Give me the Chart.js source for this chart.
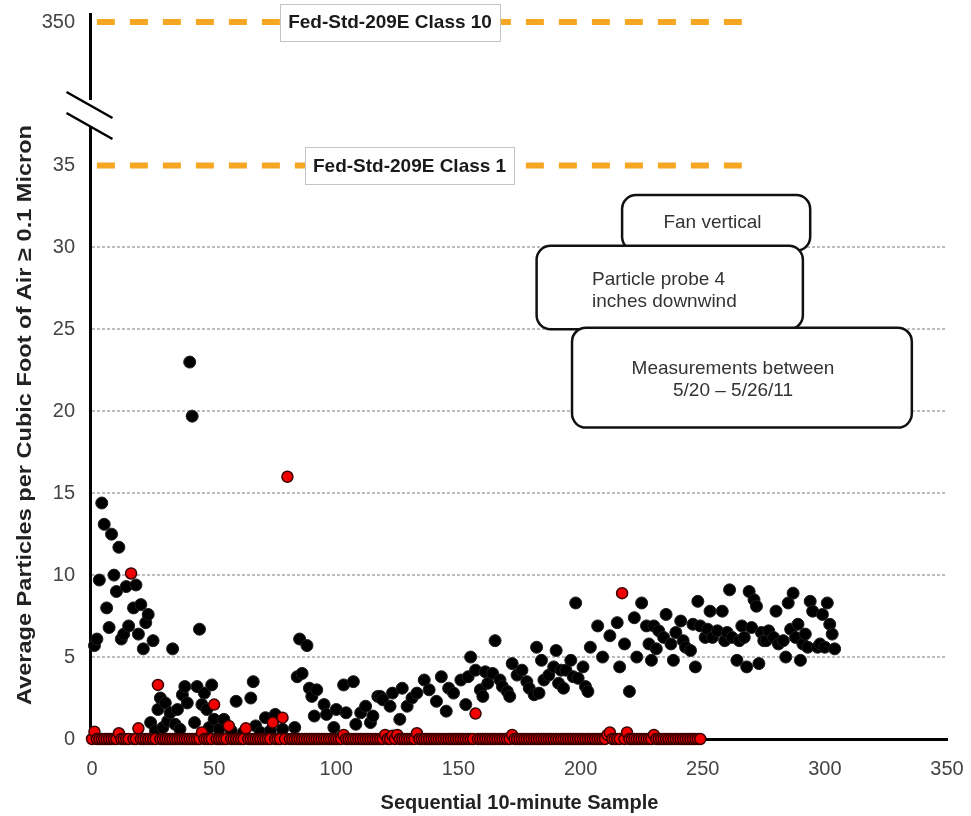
<!DOCTYPE html>
<html>
<head>
<meta charset="utf-8">
<script src="https://cdn.jsdelivr.net/npm/chart.js@4.4.1/dist/chart.umd.min.js"></script>
<style>
  html, body { margin: 0; padding: 0; background: #fff; }
</style>
</head>
<body>
<canvas id="particleChart" width="971" height="816"></canvas>
<script>
// black series: sample index and average particle count
const blackX = [
  1, 2, 3, 4, 5, 6, 7, 8, 9, 10, 11, 12, 13, 14, 15, 17, 18, 19, 20, 21, 22, 23, 25, 33,
  24, 26, 27, 28, 29, 30, 31, 32, 34, 35, 36, 37, 38, 39, 40, 41, 42, 43, 44, 45, 46, 47, 48, 49,
  50, 52, 54, 57, 59, 62, 65, 66, 67, 69, 71, 73, 75, 78, 83, 84, 85, 86, 88, 89, 90, 91, 92,
  95, 96, 99, 100, 103, 104, 107, 108, 110, 112, 114, 115, 117,
  118, 119, 122, 123, 126, 127, 129, 131, 133, 136, 138, 141, 143, 145, 146, 148, 151, 153, 154,
  155, 157, 159, 160, 161, 162, 164, 165, 167, 168, 170, 171, 172, 174, 176, 178, 179, 181, 182,
  183, 184, 185, 187, 189, 190, 191, 192, 193, 194, 196, 197, 198, 199, 201, 202, 203, 204,
  207, 209, 212, 215, 216, 218, 220, 222, 223, 225, 227, 228, 229,
  230, 231, 232, 234, 235, 237, 238, 239, 241, 242, 243, 245, 246, 247, 248, 249, 251, 252,
  253, 254, 256, 258, 259, 260, 261, 262, 264, 265, 266, 267, 268, 269, 270, 271, 272, 273,
  274, 275, 276, 277, 279, 280, 281, 283, 284, 285, 286, 287, 288, 289, 290, 291, 292, 293,
  294, 295, 297, 298, 299, 300, 301, 302, 303, 304
];
const blackY = [
  5.7, 6.1, 9.7, 14.4, 13.1, 8.0, 6.8, 12.5, 10.0, 9.0, 11.7, 6.1, 6.4, 9.3, 6.9, 8.0, 9.4, 6.4, 8.2, 5.5, 7.1, 7.6, 6.0, 5.5,
  1.0, 0.5, 1.8, 2.5, 0.7, 2.2, 1.1, 1.6, 0.9, 1.8, 0.6, 2.7, 3.2, 2.2, 23.0, 19.7, 1.0, 3.2, 6.7, 2.1, 2.8, 1.8, 0.7, 3.3,
  1.2, 0.6, 1.2, 0.5, 2.3, 0.4, 2.5, 3.5, 0.8, 0.4, 1.3, 0.5, 1.5, 0.6, 0.7, 3.8, 6.1, 4.0, 5.7, 3.1, 2.6, 1.4, 3.0,
  2.1, 1.5, 0.7, 1.8, 3.3, 1.6, 3.5, 0.9, 1.6, 2.0, 1.0, 1.4, 2.6,
  2.6, 2.4, 2.0, 2.8, 1.2, 3.1, 2.0, 2.5, 2.8, 3.6, 3.0, 2.3, 3.8, 1.7, 3.1, 2.8, 3.6, 2.1, 3.8,
  5.0, 4.2, 3.0, 2.6, 4.1, 3.4, 4.0, 6.0, 3.6, 3.2, 2.9, 2.6, 4.6, 3.9, 4.2, 3.5, 3.1, 2.7, 5.6,
  2.8, 4.8, 3.6, 3.9, 4.4, 5.4, 3.4, 4.2, 3.1, 4.2, 4.8, 3.8, 8.3, 3.7, 4.4, 3.2, 2.9, 5.6,
  6.9, 5.0, 6.3, 7.1, 4.4, 5.8, 2.9, 7.4, 5.0, 8.3, 6.9, 5.8, 4.8,
  6.9, 5.5, 6.6, 6.2, 7.6, 5.8, 4.8, 6.5, 7.2, 6.0, 5.6, 5.4, 7.0, 4.4, 8.4, 6.9, 6.2, 6.7,
  7.8, 6.2, 6.6, 7.8, 6.0, 6.5, 9.1, 6.2, 4.8, 6.0, 6.9, 6.2, 4.4, 9.0, 6.8, 8.5, 8.1, 4.6,
  6.5, 6.0, 6.0, 6.6, 6.2, 7.8, 5.8, 6.0, 5.0, 8.3, 6.7, 8.9, 6.2, 7.0, 4.8, 5.8, 6.4, 5.6,
  8.4, 7.8, 5.6, 5.8, 7.6, 5.6, 8.3, 7.0, 6.4, 5.5
];

// red series: one reading per sample, samples 0..249
const redY = [
  0, 0.45, 0, 0, 0, 0, 0, 0, 0, 0, 0, 0.35, 0, 0, 0, 0, 10.1, 0, 0, 0.65, 0, 0, 0, 0, 0,
  0, 0, 3.3, 0, 0, 0, 0, 0, 0, 0, 0, 0, 0, 0, 0, 0, 0, 0, 0, 0, 0.4, 0, 0, 0, 0,
  2.1, 0, 0, 0, 0, 0, 0.8, 0, 0, 0, 0, 0, 0, 0.65, 0, 0, 0, 0, 0, 0, 0, 0, 0, 0, 1.0,
  0, 0, 0, 1.3, 0, 16.0, 0, 0, 0, 0, 0, 0, 0, 0, 0, 0, 0, 0, 0, 0, 0, 0, 0, 0, 0,
  0, 0, 0, 0.25, 0, 0, 0, 0, 0, 0, 0, 0, 0, 0, 0, 0, 0, 0, 0, 0, 0.25, 0, 0, 0.2, 0,
  0.25, 0, 0, 0, 0, 0, 0, 0, 0.35, 0, 0, 0, 0, 0, 0, 0, 0, 0, 0, 0, 0, 0, 0, 0, 0,
  0, 0, 0, 0, 0, 0, 0, 1.55, 0, 0, 0, 0, 0, 0, 0, 0, 0, 0, 0, 0, 0, 0, 0.25, 0, 0,
  0, 0, 0, 0, 0, 0, 0, 0, 0, 0, 0, 0, 0, 0, 0, 0, 0, 0, 0, 0, 0, 0, 0, 0, 0,
  0, 0, 0, 0, 0, 0, 0, 0, 0, 0, 0, 0.25, 0.4, 0, 0, 0, 0, 8.9, 0, 0.4, 0, 0, 0, 0, 0,
  0, 0, 0, 0, 0, 0.25, 0, 0, 0, 0, 0, 0, 0, 0, 0, 0, 0, 0, 0, 0, 0, 0, 0, 0, 0
];

// Fed-Std-209E limits
const classLevels = [35, 350];
const classNames = ['Fed-Std-209E Class 1', 'Fed-Std-209E Class 10'];
const classSpan = [2, 266];
const classLabelX = [130, 122];

const yTickValues = [0, 5, 10, 15, 20, 25, 30, 35, 350];

// y axis is broken above 35, so values up there get squeezed
const BREAK_AT = 35;
const ABOVE_BREAK = 8.75 / 315;
function yPlot(v) {
  return v <= BREAK_AT ? v : BREAK_AT + (v - BREAK_AT) * ABOVE_BREAK;
}

// text boxes, placed in data coordinates (x from, x to, y top, y bottom)
const notes = [
  { text: ['Fan vertical'], box: [217, 294, 33.2, 29.8], anchor: [254, 31.5], align: 'center' },
  { text: ['Particle probe 4', 'inches downwind'], box: [182, 291, 30.1, 25.0], anchor: [204.7, 28.0], align: 'left' },
  { text: ['Measurements between', '5/20 \u2013 5/26/11'], box: [196.5, 335.6, 25.1, 19.0], anchor: [262.4, 22.6], align: 'center' }
];

Chart.defaults.font.family = '"Liberation Sans", Arial, sans-serif';

function roundBox(ctx, x, y, w, h, r) {
  ctx.beginPath();
  ctx.moveTo(x + r, y);
  ctx.lineTo(x + w - r, y);
  ctx.arcTo(x + w, y, x + w, y + r, r);
  ctx.lineTo(x + w, y + h - r);
  ctx.arcTo(x + w, y + h, x + w - r, y + h, r);
  ctx.lineTo(x + r, y + h);
  ctx.arcTo(x, y + h, x, y + h - r, r);
  ctx.lineTo(x, y + r);
  ctx.arcTo(x, y, x + r, y, r);
  ctx.closePath();
}

const decorations = {
  id: 'decorations',
  beforeDatasetsDraw(chart) {
    const ctx = chart.ctx;
    const area = chart.chartArea;
    const yScale = chart.scales.y;
    const ax = area.left - 1.5;
    const c = yScale.getPixelForValue(38.2);
    ctx.save();
    ctx.strokeStyle = '#000';
    ctx.lineWidth = 3;
    ctx.beginPath();
    ctx.moveTo(ax, area.top);
    ctx.lineTo(ax, c - 13);
    ctx.moveTo(ax, c + 14);
    ctx.lineTo(ax, area.bottom + 1.5);
    ctx.stroke();
    // break marks
    ctx.lineWidth = 2.5;
    ctx.beginPath();
    ctx.moveTo(ax - 24, c - 21);
    ctx.lineTo(ax + 22, c + 5);
    ctx.moveTo(ax - 24, c);
    ctx.lineTo(ax + 22, c + 26);
    ctx.stroke();
    ctx.restore();
  },
  afterDatasetsDraw(chart) {
    const ctx = chart.ctx;
    const xs = chart.scales.x;
    const ys = chart.scales.y;
    ctx.save();

    // limit labels
    ctx.font = 'bold 19px "Liberation Sans", Arial, sans-serif';
    ctx.textAlign = 'center';
    ctx.textBaseline = 'middle';
    classLevels.forEach((level, i) => {
      const cx = xs.getPixelForValue(classLabelX[i]);
      const cy = ys.getPixelForValue(yPlot(level));
      const w = ctx.measureText(classNames[i]).width + 16;
      const h = 37;
      ctx.fillStyle = '#fff';
      ctx.fillRect(cx - w / 2, cy - h / 2, w, h);
      ctx.strokeStyle = '#c4c4c4';
      ctx.lineWidth = 1;
      ctx.strokeRect(Math.round(cx - w / 2) + 0.5, Math.round(cy - h / 2) + 0.5, Math.round(w), h);
      ctx.fillStyle = '#1a1a1a';
      ctx.fillText(classNames[i], cx, cy + 1);
    });

    // note boxes
    ctx.font = '19px "Liberation Sans", Arial, sans-serif';
    notes.forEach(n => {
      const x0 = xs.getPixelForValue(n.box[0]);
      const x1 = xs.getPixelForValue(n.box[1]);
      const y0 = ys.getPixelForValue(n.box[2]);
      const y1 = ys.getPixelForValue(n.box[3]);
      roundBox(ctx, x0, y0, x1 - x0, y1 - y0, 14);
      ctx.fillStyle = '#fff';
      ctx.fill();
      ctx.strokeStyle = '#111';
      ctx.lineWidth = 2.5;
      ctx.stroke();
      ctx.fillStyle = '#333';
      ctx.textAlign = n.align;
      const tx = xs.getPixelForValue(n.anchor[0]);
      const ty = ys.getPixelForValue(n.anchor[1]);
      n.text.forEach((line, k) => ctx.fillText(line, tx, ty + k * 22));
    });
    ctx.restore();
  },
  afterDraw(chart) {
    // y axis title, stretched along its length like the original
    const ctx = chart.ctx;
    const title = 'Average Particles per Cubic Foot of Air \u2265 0.1 Micron';
    ctx.save();
    ctx.font = 'bold 21px "Liberation Sans", Arial, sans-serif';
    const k = 580 / ctx.measureText(title).width;
    ctx.translate(31, 415);
    ctx.rotate(-Math.PI / 2);
    ctx.scale(k, 1);
    ctx.fillStyle = '#222';
    ctx.textAlign = 'center';
    ctx.textBaseline = 'alphabetic';
    ctx.fillText(title, 0, 0);
    ctx.restore();
  }
};

const chart = new Chart(document.getElementById('particleChart').getContext('2d'), {
  type: 'scatter',
  data: {
    datasets: [
      {
        label: 'Red',
        data: redY.map((y, i) => ({ x: i, y: yPlot(y) })),
        backgroundColor: '#f00000',
        borderColor: '#3a0000',
        borderWidth: 1.5,
        pointRadius: 5.5,
        clip: false
      },
      {
        label: 'Black',
        data: blackX.map((x, i) => ({ x: x, y: yPlot(blackY[i]) })),
        backgroundColor: '#000',
        borderColor: '#1e1e1e',
        borderWidth: 1,
        pointRadius: 6,
        clip: false
      },
      ...classLevels.map((level, i) => ({
        type: 'line',
        label: classNames[i],
        data: classSpan.map(x => ({ x: x, y: yPlot(level) })),
        borderColor: '#f5a623',
        borderWidth: 6,
        borderDash: [18, 15],
        pointRadius: 0,
        clip: false
      }))
    ]
  },
  options: {
    responsive: false,
    animation: false,
    layout: { padding: { top: 13, right: 24, bottom: 0, left: 0 } },
    plugins: {
      legend: { display: false },
      tooltip: { enabled: false }
    },
    scales: {
      x: {
        type: 'linear',
        min: 0,
        max: 350,
        afterFit: s => { s.height = 77; s.paddingLeft = 0; s.paddingRight = 0; },
        ticks: { stepSize: 50, padding: 18, color: '#444', font: { size: 20 } },
        grid: { display: false, drawTicks: false },
        border: { display: true, color: '#000', width: 3 },
        title: {
          display: true,
          text: 'Sequential 10-minute Sample',
          color: '#222',
          font: { size: 20, weight: 'bold' },
          padding: { top: 0, bottom: 1 }
        }
      },
      y: {
        type: 'linear',
        min: 0,
        max: 44.3,
        afterFit: s => { s.width = 92; s.paddingTop = 0; s.paddingBottom = 0; },
        afterBuildTicks: s => { s.ticks = yTickValues.map(v => ({ value: yPlot(v) })); },
        ticks: {
          autoSkip: false,
          padding: 17,
          color: '#444',
          font: { size: 20 },
          callback: v => {
            const i = yTickValues.findIndex(t => Math.abs(yPlot(t) - v) < 1e-6);
            return i < 0 ? '' : String(yTickValues[i]);
          }
        },
        grid: {
          drawTicks: false,
          lineWidth: 2,
          color: ctx => (ctx.tick && ctx.tick.value >= 5 && ctx.tick.value <= 30) ? '#bdbdbd' : 'rgba(0,0,0,0)'
        },
        border: { display: false, dash: [3, 2] }
      }
    }
  },
  plugins: [decorations]
});
</script>
</body>
</html>
